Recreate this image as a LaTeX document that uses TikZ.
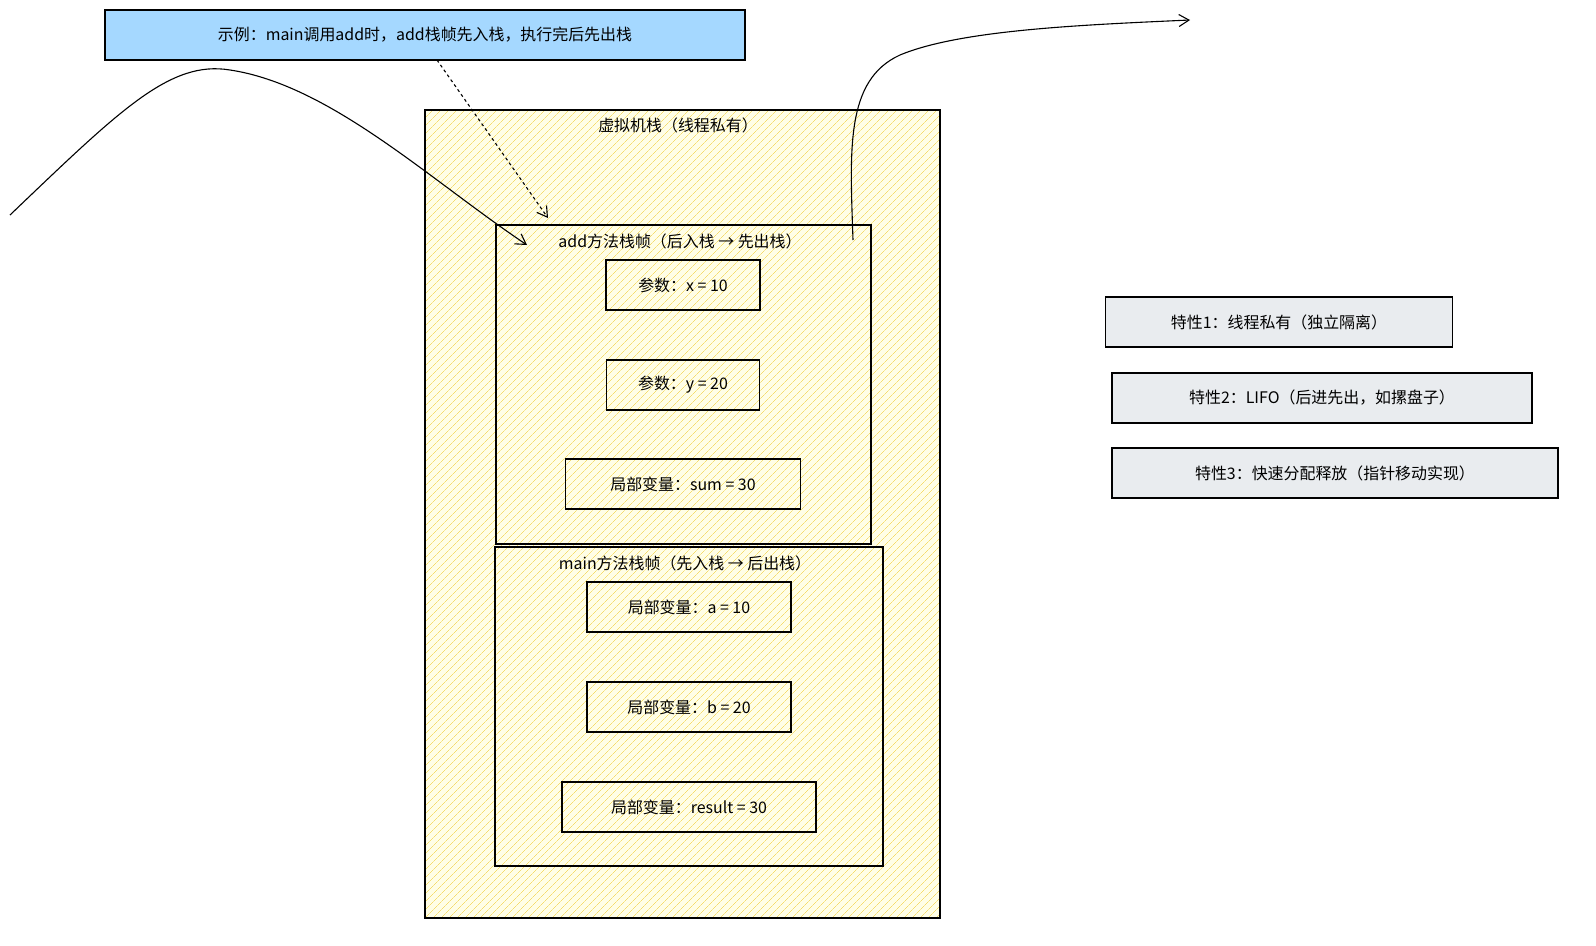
\documentclass[tikz,border=0pt]{standalone}
\usepackage{fontspec}
\setmainfont{Noto Sans CJK SC}
\usetikzlibrary{patterns.meta,arrows.meta}
\definecolor{noteblue}{HTML}{A5D8FF}
\definecolor{infogray}{HTML}{E9ECEF}
\definecolor{hatchyellow}{HTML}{F5DC6E}
\tikzset{
  txt/.style={font=\fontsize{16}{18}\selectfont},
  box/.style={draw,line width=1.1bp,minimum height=50bp,inner sep=0pt,txt},
  infobox/.style={box,fill=infogray},
  hand/.style={line width=1.1bp,-{Straight Barb[length=10bp,width=12bp]}}
}
\begin{document}
\begin{tikzpicture}[x=1bp,y=-1bp]
  \useasboundingbox (0,0) rectangle (1596,945);

  % stack
  \fill[yellow!10] (425,110) rectangle (940,918);
  \fill[pattern={Lines[angle=45,distance=6bp,line width=0.6bp]},pattern color=hatchyellow] (425,110) rectangle (940,918);
  \draw[line width=1.1bp] (425,110) rectangle (940,918);
  \node[txt] (stk) at (678,125) {虚拟机栈（线程私有）};

  \draw[line width=1.1bp] (496,225) rectangle (871,544);
  \node[txt] (addf) at (680,241) {add方法栈帧（后入栈 → 先出栈）};
  \node[box,minimum width=154bp] (x) at (683,285) {参数：x = 10};
  \node[box,minimum width=153bp] (y) at (683,385) {参数：y = 20};
  \node[box,minimum width=235bp] (sum) at (683,484) {局部变量：sum = 30};

  \draw[line width=1.1bp] (495,547) rectangle (883,866);
  \node[txt] (mainf) at (685,563) {main方法栈帧（先入栈 → 后出栈）};
  \node[box,minimum width=204bp] (a) at (689,607) {局部变量：a = 10};
  \node[box,minimum width=204bp] (b) at (689,707) {局部变量：b = 20};
  \node[box,minimum width=254bp] (res) at (689,807) {局部变量：result = 30};

  % note
  \node[box,fill=noteblue,minimum width=640bp] (note) at (425,35) {示例：main调用add时，add栈帧先入栈，执行完后先出栈};

  % properties
  \node[infobox,minimum width=347bp] (p1) at (1279,322) {特性1：线程私有（独立隔离）};
  \node[infobox,minimum width=420bp] (p2) at (1322,398) {特性2：LIFO（后进先出，如摞盘子）};
  \node[infobox,minimum width=446bp] (p3) at (1335,473) {特性3：快速分配释放（指针移动实现）};

  % arrows
  \coordinate (in0) at (10,215);
  \coordinate (out1) at (1190,20);
  \draw[line width=1.1bp,dashed,-{Straight Barb[length=10bp,width=12bp]}] (437,60) -- (548,218);
  \draw[hand] (in0) .. controls (120,110) and (170,60) .. (230,70)
              .. controls (330,85) and (430,180) .. (527,245);
  \draw[hand] (853,240) .. controls (850,150) and (845,80) .. (900,55)
              .. controls (960,30) and (1080,25) .. (out1);
\end{tikzpicture}
\end{document}
